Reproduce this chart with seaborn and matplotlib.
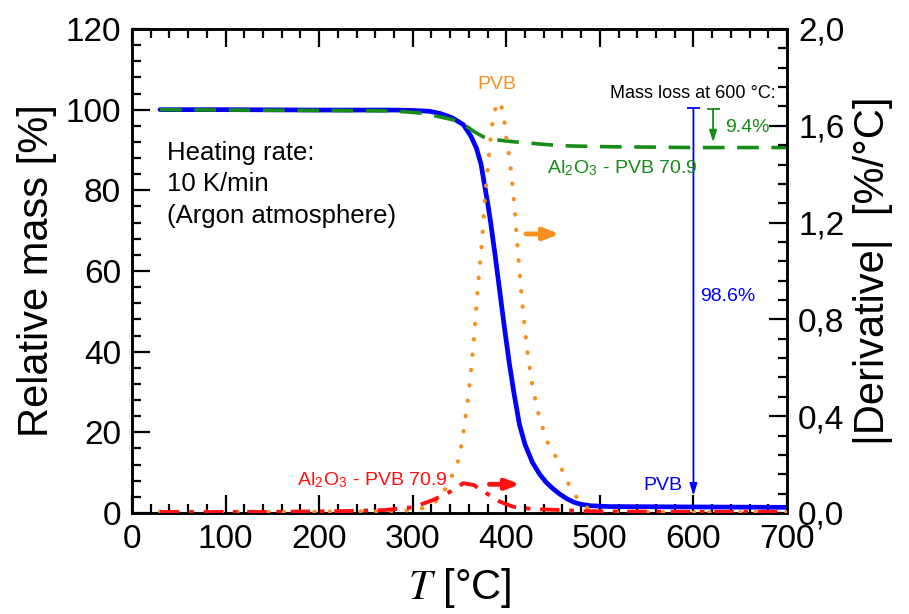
import numpy as np
import pandas as pd
import matplotlib
matplotlib.use("Agg")
import matplotlib.pyplot as plt
import seaborn as sns
from matplotlib.ticker import MultipleLocator, FixedLocator, FixedFormatter
from matplotlib import font_manager

# ---------------- data ----------------
# TGA relative mass [%] (left axis)
T_pvb_mass = [30, 100, 200, 280, 300, 318, 330, 342, 354, 362, 368, 373, 377, 380, 383, 388,
              393, 398, 403, 408, 414, 420, 428, 436, 443, 450, 457, 465, 472, 479, 490, 510, 600, 700]
mass_pvb = [100, 100, 99.9, 99.9, 99.8, 99.6, 99.0, 98.0, 96.3, 93.5, 90.5, 86.5, 81, 77, 72.5, 64,
            55, 46, 37.5, 30, 22, 17, 12.5, 9.5, 7.5, 6, 4.7, 3.5, 2.7, 2.2, 1.8, 1.6, 1.5, 1.4]

T_al_mass = [30, 100, 200, 250, 269, 290, 311, 329, 341, 351, 358, 366, 375, 390, 405, 425,
             445, 468, 511, 560, 600, 650, 700]
mass_al = [100, 99.9, 99.8, 99.75, 99.7, 99.5, 99.1, 98.2, 97.6, 96.9, 95.8, 94.5, 93.3, 92.5,
           92.1, 91.7, 91.3, 91.0, 90.8, 90.7, 90.6, 90.6, 90.6]

# |Derivative| [%/°C] (right axis)
T_pvb_der = [30, 100, 200, 280, 300, 311, 320, 329, 340, 350, 354, 360, 365, 369.5, 374, 377, 380,
             383, 386, 390, 393, 397, 400, 404, 408, 412, 416.5, 422, 428, 435, 443, 450, 457, 461,
             468, 474, 479, 489, 500, 600, 700]
der_pvb = [0.006, 0.005, 0.005, 0.008, 0.012, 0.02, 0.035, 0.06, 0.136, 0.23, 0.33, 0.50, 0.70,
           0.93, 1.12, 1.29, 1.42, 1.54, 1.64, 1.69, 1.70, 1.65, 1.55, 1.45, 1.30, 1.10, 0.89, 0.68,
           0.52, 0.40, 0.30, 0.25, 0.21, 0.16, 0.11, 0.07, 0.047, 0.012, 0.005, 0.003, 0.003]

T_al_der = [30, 100, 158, 229, 269, 301, 322, 340, 354, 365, 379, 393, 407, 429, 461, 479, 520, 600, 700]
der_al = [0.004, 0.004, 0.005, 0.008, 0.012, 0.024, 0.054, 0.088, 0.123, 0.116, 0.081, 0.047,
          0.026, 0.016, 0.012, 0.008, 0.006, 0.005, 0.005]

x_ticks = [0, 100, 200, 300, 400, 500, 600, 700]
y_ticks = [0, 20, 40, 60, 80, 100, 120]
y2_ticks = [0.0, 0.4, 0.8, 1.2, 1.6, 2.0]
y2_labels = ["0,0", "0,4", "0,8", "1,2", "1,6", "2,0"]

# ---------------- style ----------------
sns.set_style("ticks")
avail = {f.name for f in font_manager.fontManager.ttflist}
base_font = "Liberation Sans"
tick_font = "Liberation Sans Narrow" if "Liberation Sans Narrow" in avail else "Liberation Sans"
plt.rcParams["font.family"] = [base_font, "DejaVu Sans"]
plt.rcParams["mathtext.fontset"] = "stix"
for k in ("text.color", "axes.labelcolor", "xtick.color", "ytick.color"):
    plt.rcParams[k] = "black"

BLUE = "#0000ff"
GREEN = "#178c17"
ORANGE = "#f7901e"
RED = "#ff1010"

fig = plt.figure(figsize=(9.09, 6.14), dpi=100)
ax = fig.add_axes([0.1452, 0.1645, 0.7206, 0.7883])
ax2 = ax.twinx()

df_pm = pd.DataFrame({"T": T_pvb_mass, "m": mass_pvb})
df_am = pd.DataFrame({"T": T_al_mass, "m": mass_al})
df_pd = pd.DataFrame({"T": T_pvb_der, "d": der_pvb})
df_ad = pd.DataFrame({"T": T_al_der, "d": der_al})

sns.lineplot(data=df_pm, x="T", y="m", ax=ax, color=BLUE, lw=3.4, zorder=3)
sns.lineplot(data=df_am, x="T", y="m", ax=ax, color=GREEN, lw=2.6, zorder=4,
             linestyle=(0, (6, 3.5)))
sns.lineplot(data=df_pd, x="T", y="d", ax=ax2, color=ORANGE, lw=3.0, zorder=3,
             linestyle=(0, (0.1, 3.6)), dash_capstyle="round")
sns.lineplot(data=df_ad, x="T", y="d", ax=ax2, color=RED, lw=2.8, zorder=4,
             linestyle=(0, (5, 2.5, 1.2, 2.5)))

ax.set_xlim(0, 700)
ax.set_ylim(0, 120)
ax2.set_ylim(0, 2.0)

# ticks
ax.xaxis.set_major_locator(FixedLocator(x_ticks))
ax.xaxis.set_minor_locator(MultipleLocator(20))
ax.yaxis.set_major_locator(FixedLocator(y_ticks))
ax.yaxis.set_minor_locator(MultipleLocator(4))
ax2.yaxis.set_major_locator(FixedLocator(y2_ticks))
ax2.yaxis.set_major_formatter(FixedFormatter(y2_labels))
ax2.yaxis.set_minor_locator(MultipleLocator(0.08))

for a in (ax, ax2):
    for s in a.spines.values():
        s.set_linewidth(1.8)
        s.set_color("black")
ax.tick_params(axis="both", which="both", direction="in", top=True, right=False,
               width=1.6, colors="black", labelsize=24)
ax.tick_params(which="major", length=13, pad=8)
ax.tick_params(which="minor", length=6.5)
ax2.tick_params(axis="y", which="both", direction="in", width=1.6, colors="black", labelsize=24)
ax2.tick_params(which="major", length=13, pad=8)
ax2.tick_params(which="minor", length=6.5)
for lab in ax.get_xticklabels() + ax.get_yticklabels() + ax2.get_yticklabels():
    lab.set_family(tick_font)

ax.set_xlabel("$T$ [°C]", fontsize=30, labelpad=8)
ax.set_ylabel("Relative mass [%]", fontsize=30, labelpad=6)
ax2.set_ylabel("|Derivative|  [%/°C]", fontsize=30, labelpad=6)

# ---------------- annotations ----------------
ax.text(37, 92.2, "Heating rate:\n10 K/min\n(Argon atmosphere)", fontsize=18.5,
        va="top", ha="left", linespacing=1.38)

ax2.text(390, 1.77, "PVB", color=ORANGE, fontsize=14, ha="center", va="center")
ax2.annotate("", xy=(457, 1.153), xytext=(421, 1.153),
             arrowprops=dict(arrowstyle="-|>,head_length=0.9,head_width=0.35",
                             color=ORANGE, lw=3.5, shrinkA=0, shrinkB=0))

ax.text(688, 104.1, "Mass loss at 600 °C:", fontsize=13, ha="right", va="center")

# 98.6 % arrow (PVB)
x_pvb_arrow = 600
ax.annotate("", xy=(x_pvb_arrow, 4.3), xytext=(x_pvb_arrow, 100.3),
            arrowprops=dict(arrowstyle="-|>,head_length=0.7,head_width=0.22",
                            color=BLUE, lw=1.3, shrinkA=0, shrinkB=0))
ax.hlines(100.3, x_pvb_arrow - 7, x_pvb_arrow + 7, color=BLUE, lw=1.3)
ax.text(607, 53.6, "98.6%", color=BLUE, fontsize=14, ha="left", va="center")
ax.text(567, 6.7, "PVB", color=BLUE, fontsize=14, ha="center", va="center")

# 9.4 % arrow (Al2O3 - PVB)
x_al_arrow = 621
ax.annotate("", xy=(x_al_arrow, 91.9), xytext=(x_al_arrow, 100.2),
            arrowprops=dict(arrowstyle="-|>,head_length=0.7,head_width=0.22",
                            color=GREEN, lw=1.3, shrinkA=0, shrinkB=0))
ax.hlines(100.2, x_al_arrow - 7, x_al_arrow + 7, color=GREEN, lw=1.3)
ax.text(634, 95.5, "9.4%", color=GREEN, fontsize=14, ha="left", va="center")
ax.text(444, 85.5, r"Al$_\mathregular{2}$O$_\mathregular{3}$ - PVB 70.9", color=GREEN,
        fontsize=14, ha="left", va="center")

ax2.text(176, 0.136, r"Al$_\mathregular{2}$O$_\mathregular{3}$ - PVB 70.9", color=RED,
         fontsize=14, ha="left", va="center")
ax2.annotate("", xy=(415, 0.1186), xytext=(382, 0.1186),
             arrowprops=dict(arrowstyle="-|>,head_length=0.8,head_width=0.3",
                             color=RED, lw=3.5, shrinkA=0, shrinkB=0))

fig.savefig("out.png", dpi=100)
